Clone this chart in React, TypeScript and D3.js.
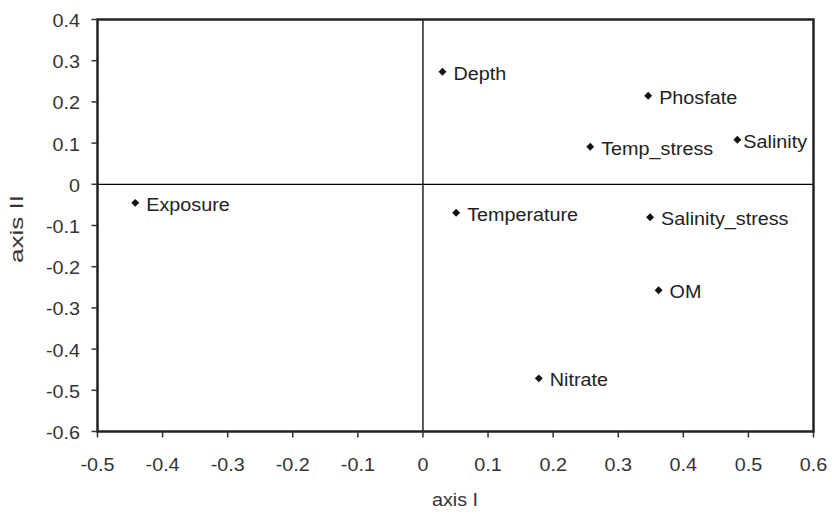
import React from "react";
import * as d3 from "d3";

const labels = ["Depth", "Phosfate", "Temp_stress", "Salinity", "Exposure", "Temperature", "Salinity_stress", "OM", "Nitrate"];
const axisI = [0.03, 0.346, 0.257, 0.483, -0.442, 0.051, 0.349, 0.362, 0.178];
const axisII = [0.273, 0.215, 0.091, 0.108, -0.045, -0.069, -0.08, -0.257, -0.471];
const labelGap = [11, 11, 11, 6, 11, 11, 11, 11, 11];
const xTicks = [-0.5, -0.4, -0.3, -0.2, -0.1, 0, 0.1, 0.2, 0.3, 0.4, 0.5, 0.6];
const yTicks = [0.4, 0.3, 0.2, 0.1, 0, -0.1, -0.2, -0.3, -0.4, -0.5, -0.6];

const SX = 1.13;

export default function App() {
  const W = 832, H = 515;
  const x = d3.scaleLinear().domain([-0.5, 0.6]).range([97.5, 813.5]);
  const y = d3.scaleLinear().domain([-0.6, 0.4]).range([431.5, 19.5]);
  const fmt = (v: number) => (Math.abs(v) < 1e-9 ? "0" : d3.format(".1f")(v).replace("\u2212", "-"));
  const diamond = d3.symbol().type(d3.symbolDiamond2).size(40)() as string;
  const font = "'Liberation Sans', Arial, sans-serif";
  const fs = 17.5;
  return (
    <svg width={W} height={H} style={{ position: "absolute", left: 0, top: 0 }} fontFamily={font}>
      <rect width={W} height={H} fill="#fff" />
      {/* zero lines */}
      <line x1={x(0)} x2={x(0)} y1={y(0.4)} y2={y(-0.6)} stroke="#000" strokeWidth={1.3} />
      <line x1={x(-0.5)} x2={x(0.6)} y1={y(0)} y2={y(0)} stroke="#000" strokeWidth={1.3} />
      {/* frame */}
      <rect x={x(-0.5)} y={y(0.4)} width={x(0.6) - x(-0.5)} height={y(-0.6) - y(0.4)} fill="none" stroke="#222" strokeWidth={2.5} />
      {/* y ticks */}
      {yTicks.map((t) => (
        <g key={"y" + t}>
          <line x1={x(-0.5) - 6} x2={x(-0.5)} y1={y(t)} y2={y(t)} stroke="#333" strokeWidth={1.5} />
          <text transform={`translate(80,${y(t) + 7.5}) scale(${SX},1)`} textAnchor="end" fontSize={fs} fill="#333">{fmt(t)}</text>
        </g>
      ))}
      {/* x ticks */}
      {xTicks.map((t) => (
        <g key={"x" + t}>
          <line x1={x(t)} x2={x(t)} y1={y(-0.6)} y2={y(-0.6) + 6} stroke="#333" strokeWidth={1.5} />
          <text transform={`translate(${x(t)},471) scale(${SX},1)`} textAnchor="middle" fontSize={fs} fill="#333">{fmt(t)}</text>
        </g>
      ))}
      <text transform={`translate(455,505.5) scale(${SX},1)`} textAnchor="middle" fontSize={fs} fill="#333">axis I</text>
      <text transform={`translate(23,229) rotate(-90) scale(1.45,1)`} textAnchor="middle" fontSize={18} fill="#333">axis II</text>
      {labels.map((l, i) => (
        <g key={l}>
          <path d={diamond} transform={`translate(${x(axisI[i])},${y(axisII[i])})`} fill="#111" />
          <text transform={`translate(${x(axisI[i]) + labelGap[i]},${y(axisII[i]) + 8}) scale(${SX},1)`} fontSize={fs} fill="#222">{l}</text>
        </g>
      ))}
    </svg>
  );
}
